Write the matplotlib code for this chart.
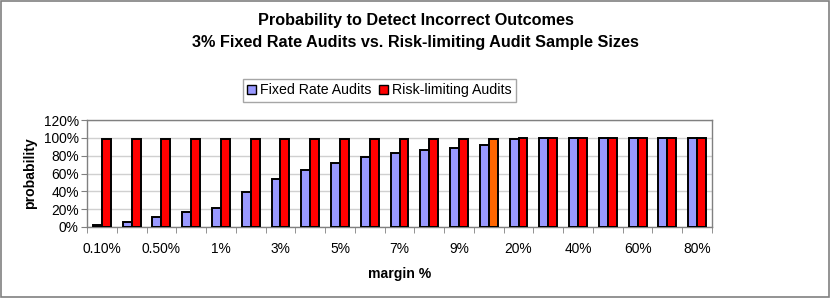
import matplotlib
matplotlib.use("Agg")
import matplotlib.pyplot as plt
from matplotlib.patches import Rectangle, Patch
from matplotlib.ticker import FixedLocator, PercentFormatter
import numpy as np

plt.rcParams['font.family'] = ['Liberation Sans', 'DejaVu Sans']

categories = ["0.10%", "0.25%", "0.50%", "0.75%", "1%", "2%", "3%", "4%", "5%", "6%",
              "7%", "8%", "9%", "10%", "20%", "30%", "40%", "50%", "60%", "70%", "80%"]
fixed_rate = [2.6, 5.6, 11.2, 16.4, 21.6, 39.5, 53.5, 63.5, 72, 78, 83, 86, 89, 92,
              99, 100, 100, 100, 100, 100, 100]
risk_limiting = [99, 99, 99, 99, 99, 99, 99, 99, 99, 99, 99, 99, 99, 99,
                 99.8, 100, 100, 100, 100, 100, 100]
highlight_index = 13  # orange bar in risk-limiting series

W, H = 831, 298
fig = plt.figure(figsize=(W / 100, H / 100), dpi=100)
ax = fig.add_axes([87 / W, 1 - 227 / H, (712 - 87) / W, (227 - 120) / H])

x = np.arange(len(categories))
bw = 0.3
red_colors = ["#FF0000"] * len(categories)
red_colors[highlight_index] = "#FF6600"
ax.bar(x - bw / 2, fixed_rate, width=bw, color="#9999FF", edgecolor="black", linewidth=1.4, zorder=3)
ax.bar(x + bw / 2, risk_limiting, width=bw, color=red_colors, edgecolor="black", linewidth=1.4, zorder=3)

ax.set_xlim(-0.5, len(categories) - 0.5)
ax.set_ylim(0, 120)
ax.set_yticks(np.arange(0, 121, 20))
ax.yaxis.set_major_formatter(PercentFormatter(decimals=0))
ax.yaxis.grid(True, color="#d0d0d0", linewidth=1.0, zorder=0)

ax.set_xticks(x[::2])
ax.set_xticklabels(categories[::2])
ax.xaxis.set_minor_locator(FixedLocator(np.arange(-0.5, len(categories), 1.0)))
ax.tick_params(axis='x', which='major', length=0, pad=11, labelsize=9.9)
ax.tick_params(axis='x', which='minor', length=4, color="#808080", direction='out')
ax.tick_params(axis='y', length=4, color="#808080", labelsize=9.9, pad=2)

for s in ax.spines.values():
    s.set_color("#808080")
    s.set_linewidth(1.0)

ax.set_ylabel("probability", fontsize=10.1, fontweight='bold', labelpad=5)
ax.set_xlabel("margin %", fontsize=10.1, fontweight='bold', labelpad=8)

fig.text(415.5 / W, 1 - 21 / H, "Probability to Detect Incorrect Outcomes",
         ha='center', va='center', fontsize=11.7, fontweight='bold')
fig.text(415.5 / W, 1 - 42.5 / H, "3% Fixed Rate Audits vs. Risk-limiting Audit Sample Sizes",
         ha='center', va='center', fontsize=11.7, fontweight='bold')

handles = [Patch(facecolor="#9999FF", edgecolor="black", linewidth=1.0),
           Patch(facecolor="#FF0000", edgecolor="black", linewidth=1.0)]
leg = fig.legend(handles, ["Fixed Rate Audits", "Risk-limiting Audits"], loc='center',
                 bbox_to_anchor=(379.5 / W, 1 - 90.5 / H), ncol=2, fontsize=10.2,
                 frameon=True, fancybox=False, edgecolor="#909090", handlelength=0.65,
                 handleheight=0.65, handletextpad=0.3, columnspacing=0.5, borderpad=0.3,
                 borderaxespad=0)
leg.get_frame().set_linewidth(1.0)

fig.patches.append(Rectangle((0.5 / W, 1 - 296.5 / H), 828.5 / W, 296 / H,
                             transform=fig.transFigure, fill=False,
                             edgecolor="#808080", linewidth=1.2))

fig.savefig("out.png", dpi=100)
